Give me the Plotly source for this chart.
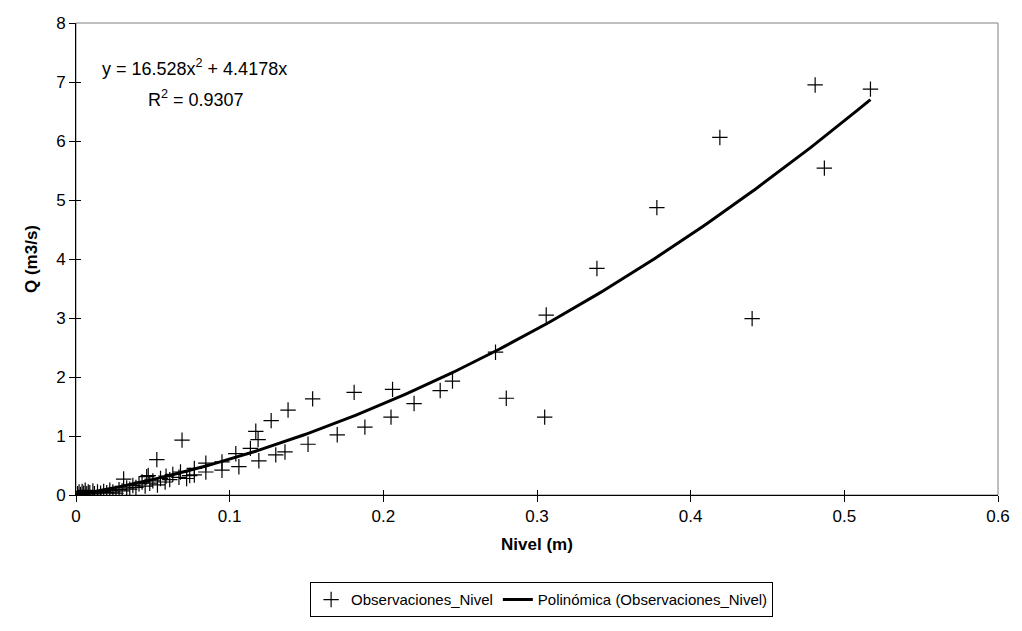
import plotly.graph_objects as go
import numpy as np

# Observed data (Nivel in m, Q in m3/s)
nivel = [0.517, 0.481, 0.487, 0.419, 0.440, 0.378, 0.339, 0.306, 0.305, 0.273,
         0.280, 0.245, 0.237, 0.220, 0.206, 0.205, 0.188, 0.181, 0.170, 0.154,
         0.151, 0.138, 0.136, 0.130, 0.127, 0.117, 0.1185, 0.1135, 0.119, 0.104,
         0.106, 0.095, 0.095, 0.0845, 0.0845, 0.077, 0.077, 0.068, 0.067, 0.0586,
         0.069, 0.0526, 0.046, 0.063, 0.061, 0.058, 0.055, 0.053, 0.050, 0.048,
         0.047, 0.045, 0.043, 0.041, 0.039, 0.037, 0.035, 0.033, 0.031, 0.030,
         0.028, 0.026, 0.024, 0.022, 0.020, 0.018, 0.016, 0.014, 0.012, 0.011,
         0.009, 0.008, 0.007, 0.006, 0.005, 0.004, 0.003, 0.002, 0.001, 0.072,
         0.074]
caudal = [6.88, 6.95, 5.54, 6.06, 2.99, 4.87, 3.84, 3.05, 1.32, 2.42,
          1.64, 1.93, 1.77, 1.55, 1.79, 1.32, 1.15, 1.74, 1.02, 1.63,
          0.86, 1.44, 0.73, 0.68, 1.26, 1.08, 0.94, 0.79, 0.58, 0.70,
          0.48, 0.56, 0.42, 0.54, 0.39, 0.45, 0.34, 0.39, 0.30, 0.32,
          0.93, 0.60, 0.31, 0.35, 0.26, 0.22, 0.28, 0.17, 0.24, 0.20,
          0.33, 0.15, 0.22, 0.19, 0.13, 0.16, 0.10, 0.12, 0.27, 0.07,
          0.09, 0.03, 0.05, 0.08, 0.04, 0.06, 0.03, 0.05, 0.02, 0.07,
          0.04, 0.05, 0.02, 0.08, 0.03, 0.06, 0.01, 0.05, 0.02, 0.28,
          0.33]

# Polynomial trendline coefficients (from chart label)
coef_a = 16.528
coef_b = 4.4178
r2 = 0.9307

x_ticks = [0, 0.1, 0.2, 0.3, 0.4, 0.5, 0.6]
y_ticks = [0, 1, 2, 3, 4, 5, 6, 7, 8]

xf = np.linspace(0, max(nivel), 200)
yf = coef_a * xf**2 + coef_b * xf

FONT = "Liberation Sans, Arial, sans-serif"

fig = go.Figure()
fig.add_trace(go.Scatter(
    x=nivel, y=caudal, mode="markers", name="Observaciones_Nivel",
    marker=dict(symbol="cross-thin", size=11, color="black",
                line=dict(width=1.2, color="black")),
))
fig.add_trace(go.Scatter(
    x=xf, y=yf, mode="lines", name="Polinómica (Observaciones_Nivel)",
    line=dict(color="black", width=3),
))
# dummy trace on second axes for inner ticks
fig.add_trace(go.Scatter(x=[None], y=[None], xaxis="x2", yaxis="y2",
                         showlegend=False, hoverinfo="skip"))

fig.update_layout(
    width=1022, height=631,
    margin=dict(l=76, r=18, t=23, b=136),
    paper_bgcolor="white", plot_bgcolor="white",
    font=dict(family=FONT, size=17, color="black"),
    showlegend=True,
    legend=dict(orientation="h", x=0.505, xanchor="center", y=-0.185, yanchor="top",
                bordercolor="black", borderwidth=1, font=dict(size=15),
                itemwidth=30, tracegroupgap=0),
    xaxis=dict(range=[0, 0.6], tickvals=x_ticks, ticktext=[f"{v:g}" for v in x_ticks],
               showgrid=False, zeroline=False, showline=True, linecolor="black",
               linewidth=1, ticks="outside", ticklen=6, tickcolor="black",
               title=dict(text="<b>Nivel (m)</b>", font=dict(size=17), standoff=12),
               tickfont=dict(size=17)),
    yaxis=dict(range=[0, 8], tickvals=y_ticks, showgrid=False, zeroline=False,
               showline=True, linecolor="black", linewidth=1, ticks="outside",
               ticklen=6, tickcolor="black",
               title=dict(text="<b>Q (m3/s)</b>", font=dict(size=17), standoff=14),
               tickfont=dict(size=17)),
    xaxis2=dict(range=[0, 0.6], tickvals=x_ticks, overlaying="x", showticklabels=False,
                showgrid=False, zeroline=False, ticks="inside", ticklen=5,
                tickcolor="black", anchor="y"),
    yaxis2=dict(range=[0, 8], tickvals=y_ticks, overlaying="y", showticklabels=False,
                showgrid=False, zeroline=False, ticks="inside", ticklen=5,
                tickcolor="black", anchor="x"),
    shapes=[dict(type="rect", xref="paper", yref="paper", x0=0, x1=1, y0=0, y1=1,
                 line=dict(color="#808080", width=1), layer="below")],
    annotations=[
        dict(x=0.077, y=7.25, xref="x", yref="y", showarrow=False,
             text=f"y = {coef_a}x<sup>2</sup> + {coef_b}x",
             font=dict(size=18, family=FONT), align="center"),
        dict(x=0.078, y=6.72, xref="x", yref="y", showarrow=False,
             text=f"R<sup>2</sup> = {r2}",
             font=dict(size=18, family=FONT), align="center"),
    ],
)

fig.write_html("out.html")
